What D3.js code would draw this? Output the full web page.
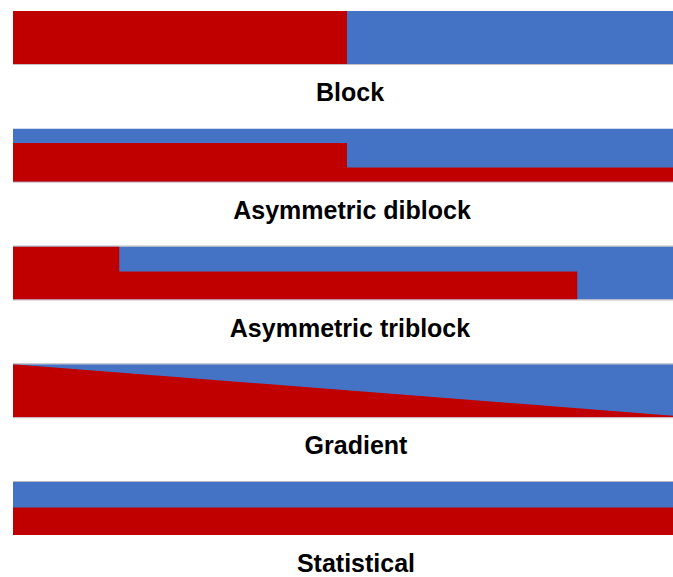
<!DOCTYPE html>
<html>
<head>
<meta charset="utf-8">
<script src="https://cdn.jsdelivr.net/npm/d3@7"></script>
<style>
  html, body { margin: 0; padding: 0; background: #fff; }
  svg { display: block; }
</style>
</head>
<body>
<svg id="chart" width="673" height="577"></svg>
<script>
// Copolymer sequence types (panel labels)
const categories = ["Block", "Asymmetric diblock", "Asymmetric triblock", "Gradient", "Statistical"];

// Profile of the blue (top) fraction along chain length, [position, blueFraction]
const blockProfile      = [[0, 0], [0.506, 0], [0.506, 1], [1, 1]];
const diblockProfile    = [[0, 0.27], [0.506, 0.27], [0.506, 0.73], [1, 0.73]];
const triblockProfile   = [[0, 0], [0.161, 0], [0.161, 0.47], [0.855, 0.47], [0.855, 1], [1, 1]];
const gradientProfile   = [[0, 0], [1, 0.97]];
const statisticalProfile = [[0, 0.48], [1, 0.48]];

const profiles = [blockProfile, diblockProfile, triblockProfile, gradientProfile, statisticalProfile];

const svg = d3.select("#chart");
const left = 13, right = 673;
const barH = 53;
const labelCenters = [350, 352, 350, 356, 356];

const x = d3.scaleLinear().domain([0, 1]).range([left, right]);
const rowTop = d3.scaleLinear().domain([0, categories.length - 1]).range([11, 482]);

const red = "#C00000", blue = "#4472C4";

categories.forEach((name, i) => {
  const top = rowTop(i);
  const y = d3.scaleLinear().domain([0, 1]).range([top, top + barH]);
  const g = svg.append("g");

  // blue background (top component)
  g.append("rect")
    .attr("x", x(0)).attr("y", y(0))
    .attr("width", x(1) - x(0)).attr("height", y(1) - y(0))
    .attr("fill", blue);

  // red component below the boundary
  const area = d3.area()
    .x(d => x(d[0]))
    .y0(y(1))
    .y1(d => y(d[1]));
  g.append("path")
    .datum(profiles[i])
    .attr("d", area)
    .attr("fill", red);

  // thin light frame lines
  if (i >= 2) {
    g.append("line").attr("x1", x(0)).attr("x2", x(1))
      .attr("y1", y(0) - 0.5).attr("y2", y(0) - 0.5)
      .attr("stroke", "#b8b8c0").attr("stroke-width", 1);
  }
  if (i < 4) {
    g.append("line").attr("x1", x(0)).attr("x2", x(1))
      .attr("y1", y(1) + 0.5).attr("y2", y(1) + 0.5)
      .attr("stroke", "#c8c0c0").attr("stroke-width", 1);
  }

  // label
  svg.append("text")
    .attr("x", labelCenters[i])
    .attr("y", top + 81)
    .attr("text-anchor", "middle")
    .attr("dominant-baseline", "central")
    .attr("font-family", "Liberation Sans, Arial, sans-serif")
    .attr("font-weight", "bold")
    .attr("font-size", "25px")
    .attr("fill", "#000")
    .text(name);
});
</script>
</body>
</html>
